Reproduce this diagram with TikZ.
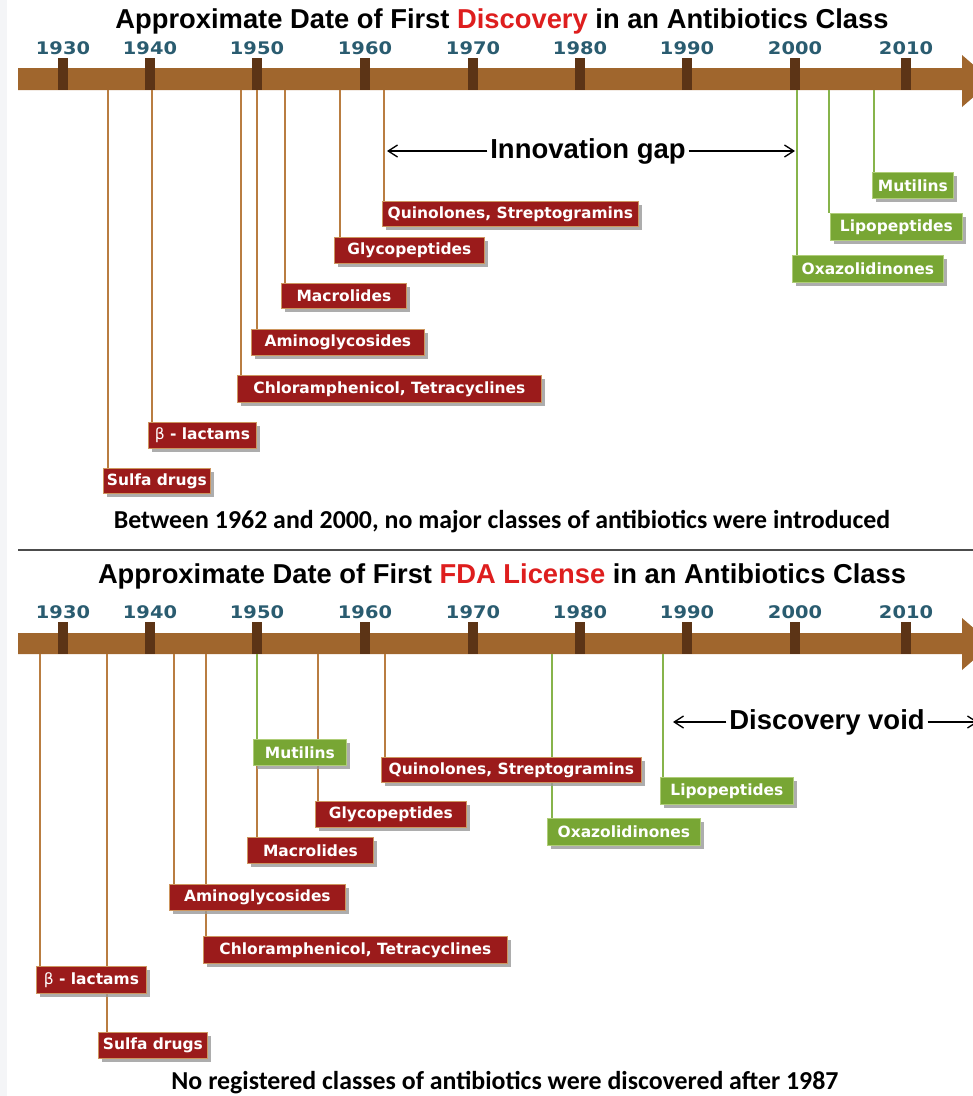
\documentclass[tikz,border=0pt]{standalone}
\usepackage{fontspec}
\setmainfont{Liberation Sans}
\newfontfamily\boxfont{DejaVu Sans}
\newfontfamily\yearfont{DejaVu Sans}[FakeStretch=1.12]
\newfontfamily\calfont{Carlito}
\usetikzlibrary{shadows,arrows.meta}
\definecolor{barbrown}{RGB}{160,102,45}
\definecolor{tickbrown}{RGB}{92,52,22}
\definecolor{linebrown}{RGB}{185,125,65}
\definecolor{linegreen}{RGB}{135,180,75}
\definecolor{boxred}{RGB}{155,27,27}
\definecolor{boxgreen}{RGB}{120,166,52}
\definecolor{rededge}{RGB}{205,150,95}
\definecolor{greenedge}{RGB}{175,205,120}
\definecolor{yearblue}{RGB}{42,92,112}
\definecolor{titlered}{RGB}{222,30,30}
\definecolor{stripgray}{RGB}{244,245,247}
\tikzset{
  lbl/.style={anchor=north west, inner sep=0pt, text=white,
    font=\boxfont\bfseries\fontsize{11.6}{14}\selectfont,
    drop shadow={shadow xshift=2.6pt, shadow yshift=-2.6pt, fill=black!40, opacity=0.8}},
  redbox/.style={lbl, fill=boxred, draw=rededge, line width=0.6pt},
  greenbox/.style={lbl, fill=boxgreen, draw=greenedge, line width=0.6pt},
  brownline/.style={draw=linebrown, line width=2.2pt},
  greenline/.style={draw=linegreen, line width=2.2pt},
  yearlbl/.style={text=yearblue, font=\yearfont\bfseries\fontsize{13}{15}\selectfont, inner sep=0pt},
  titlelbl/.style={font=\bfseries\fontsize{20.5}{24}\selectfont, inner sep=0pt},
  notelbl/.style={font=\calfont\bfseries\fontsize{19.4}{22}\selectfont, inner sep=0pt},
  gaplbl/.style={font=\bfseries\fontsize{20.6}{24}\selectfont, inner sep=2pt},
  gaparrow/.style={draw=black, line width=1pt},
  tickmark/.style={fill=tickbrown},
  barfill/.style={fill=barbrown}
}
\begin{document}
\begin{tikzpicture}[x=0.75pt,y=-0.75pt]
\clip (0,0) rectangle (973,1096);
\fill[white] (0,0) rectangle (973,1096);
\fill[stripgray] (0,0) rectangle (7,1096);

% ================= TOP PANEL =================
\node[titlelbl] (title1) at (502,21) {Approximate Date of First \textcolor{titlered}{Discovery} in an Antibiotics Class};

\path[barfill] (18,68) -- (962,68) -- (962,55) -- (992,81) -- (962,107) -- (962,90) -- (18,90) -- cycle;

\foreach \yr/\xx in {1930/63,1940/150,1950/257,1960/365,1970/473,1980/580,1990/687,2000/795,2010/906}{
  \fill[tickmark] (\xx-5,58) rectangle (\xx+5,90);
  \node[yearlbl] (ya\yr) at (\xx,48) {\yr};
}

\coordinate (a-sulfa) at (108,90);
\coordinate (a-beta) at (152,90);
\coordinate (a-chlor) at (241,90);
\coordinate (a-amino) at (257,90);
\coordinate (a-macro) at (285,90);
\coordinate (a-glyco) at (340,90);
\coordinate (a-quino) at (384,90);
\coordinate (a-oxaz) at (797,90);
\coordinate (a-lipo) at (829,90);
\coordinate (a-muti) at (874,90);

\node[redbox, minimum width=107*0.75pt, minimum height=25*0.75pt] (sulfaA) at (103,468) {Sulfa drugs};
\node[redbox, minimum width=108*0.75pt, minimum height=26*0.75pt] (betaA) at (148,422) {{\mdseries β} - lactams};
\node[redbox, minimum width=304*0.75pt, minimum height=27*0.75pt] (chlorA) at (237,375) {Chloramphenicol, Tetracyclines};
\node[redbox, minimum width=173*0.75pt, minimum height=26*0.75pt] (aminoA) at (251,329) {Aminoglycosides};
\node[redbox, minimum width=125*0.75pt, minimum height=25*0.75pt] (macroA) at (281,283) {Macrolides};
\node[redbox, minimum width=150*0.75pt, minimum height=26*0.75pt] (glycoA) at (334,237) {Glycopeptides};
\node[redbox, minimum width=256*0.75pt, minimum height=25*0.75pt] (quinoA) at (382,201) {Quinolones, Streptogramins};
\node[greenbox, minimum width=151*0.75pt, minimum height=27*0.75pt] (oxazA) at (792,255) {Oxazolidinones};
\node[greenbox, minimum width=132*0.75pt, minimum height=27*0.75pt] (lipoA) at (830,213) {Lipopeptides};
\node[greenbox, minimum width=81*0.75pt, minimum height=26*0.75pt] (mutiA) at (872,172) {Mutilins};

\draw[brownline] (a-sulfa) -- (a-sulfa |- sulfaA.north);
\draw[brownline] (a-beta) -- (a-beta |- betaA.north);
\draw[brownline] (a-chlor) -- (a-chlor |- chlorA.north);
\draw[brownline] (a-amino) -- (a-amino |- aminoA.north);
\draw[brownline] (a-macro) -- (a-macro |- macroA.north);
\draw[brownline] (a-glyco) -- (a-glyco |- glycoA.north);
\draw[brownline] (a-quino) -- (a-quino |- quinoA.north);
\draw[greenline] (a-oxaz) -- (a-oxaz |- oxazA.north);
\draw[greenline] (a-lipo) -- (a-lipo |- lipoA.north);
\draw[greenline] (a-muti) -- (a-muti |- mutiA.north);

\node[gaplbl] (gap) at (588,151) {Innovation gap};
\coordinate (gapL) at (387,151);
\coordinate (gapR) at (795,151);
\draw[gaparrow, -{Straight Barb[length=7pt,width=9pt]}] (gap.west) -- (gapL);
\draw[gaparrow, -{Straight Barb[length=7pt,width=9pt]}] (gap.east) -- (gapR);

\node[notelbl] (note1) at (502,522) {Between 1962 and 2000, no major classes of antibiotics were introduced};

\coordinate (sepL) at (18,550);
\coordinate (sepR) at (973,550);
\draw[draw=black!70, line width=1.5pt] (sepL) -- (sepR);

% ================= BOTTOM PANEL =================
\node[titlelbl] (title2) at (502,576) {Approximate Date of First \textcolor{titlered}{FDA License} in an Antibiotics Class};

\path[barfill] (18,633) -- (962,633) -- (962,618) -- (992,644) -- (962,670) -- (962,654) -- (18,654) -- cycle;

\foreach \yr/\xx in {1930/63,1940/150,1950/257,1960/365,1970/473,1980/580,1990/687,2000/795,2010/906}{
  \fill[tickmark] (\xx-5,622) rectangle (\xx+5,654);
  \node[yearlbl] (yb\yr) at (\xx,612) {\yr};
}

\coordinate (b-beta) at (40,654);
\coordinate (b-sulfa) at (107,654);
\coordinate (b-amino) at (174,654);
\coordinate (b-chlor) at (206,654);
\coordinate (b-macro) at (257,654);
\coordinate (b-muti) at (257,654);
\coordinate (b-glyco) at (318,654);
\coordinate (b-quino) at (385,654);
\coordinate (b-oxaz) at (552,654);
\coordinate (b-lipo) at (663,654);

\coordinate (e-beta) at (40,966);
\coordinate (e-sulfa) at (107,1032);
\coordinate (e-amino) at (174,884);
\coordinate (e-chlor) at (206,936);
\coordinate (e-macro) at (257,837);
\coordinate (e-muti) at (257,739);
\coordinate (e-glyco) at (318,801);
\coordinate (e-quino) at (385,757);
\coordinate (e-oxaz) at (552,818);
\coordinate (e-lipo) at (663,777);

\draw[brownline] (b-beta) -- (e-beta);
\draw[brownline] (b-sulfa) -- (e-sulfa);
\draw[brownline] (b-amino) -- (e-amino);
\draw[brownline] (b-chlor) -- (e-chlor);
\draw[brownline] (b-macro) -- (e-macro);
\draw[greenline] (b-muti) -- (e-muti);
\draw[brownline] (b-glyco) -- (e-glyco);
\draw[brownline] (b-quino) -- (e-quino);
\draw[greenline] (b-oxaz) -- (e-oxaz);
\draw[greenline] (b-lipo) -- (e-lipo);

\node[redbox, minimum width=110*0.75pt, minimum height=27*0.75pt] (betaB) at (36,966) {{\mdseries β} - lactams};
\node[redbox, minimum width=109*0.75pt, minimum height=26*0.75pt] (sulfaB) at (98,1032) {Sulfa drugs};
\node[redbox, minimum width=176*0.75pt, minimum height=26*0.75pt] (aminoB) at (169,884) {Aminoglycosides};
\node[redbox, minimum width=304*0.75pt, minimum height=27*0.75pt] (chlorB) at (203,936) {Chloramphenicol, Tetracyclines};
\node[redbox, minimum width=126*0.75pt, minimum height=26*0.75pt] (macroB) at (247,837) {Macrolides};
\node[greenbox, minimum width=93*0.75pt, minimum height=26*0.75pt] (mutiB) at (253,739) {Mutilins};
\node[redbox, minimum width=151*0.75pt, minimum height=26*0.75pt] (glycoB) at (315,801) {Glycopeptides};
\node[redbox, minimum width=260*0.75pt, minimum height=25*0.75pt] (quinoB) at (381,757) {Quinolones, Streptogramins};
\node[greenbox, minimum width=153*0.75pt, minimum height=27*0.75pt] (oxazB) at (547,818) {Oxazolidinones};
\node[greenbox, minimum width=133*0.75pt, minimum height=27*0.75pt] (lipoB) at (660,777) {Lipopeptides};

\node[gaplbl] (void) at (827,722) {Discovery void};
\coordinate (voidL) at (673,722);
\coordinate (voidR) at (978,722);
\draw[gaparrow, -{Straight Barb[length=7pt,width=9pt]}] (void.west) -- (voidL);
\draw[gaparrow, -{Straight Barb[length=7pt,width=9pt]}] (void.east) -- (voidR);

\node[notelbl] (note2) at (505,1083) {No registered classes of antibiotics were discovered after 1987};
\end{tikzpicture}
\end{document}
